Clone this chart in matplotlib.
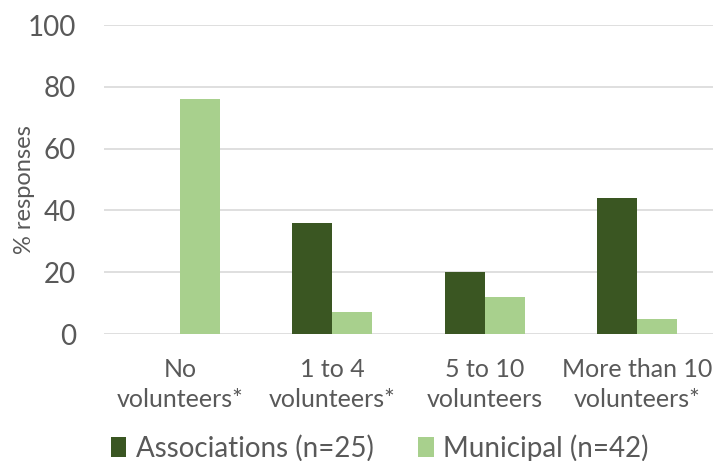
import matplotlib
matplotlib.use("Agg")
import matplotlib.pyplot as plt
import numpy as np

categories = ["No\nvolunteers*", "1 to 4\nvolunteers*", "5 to 10\nvolunteers", "More than 10\nvolunteers*"]
associations = [0, 36, 20, 44]
municipal = [76.2, 7.1, 11.9, 4.8]
series_names = ["Associations (n=25)", "Municipal (n=42)"]
yticks = [0, 20, 40, 60, 80, 100]

plt.rcParams['font.family'] = ['Lato', 'DejaVu Sans']
fig = plt.figure(figsize=(7.14, 4.61), dpi=100)
ax = fig.add_axes([104/714, 1-334/461, (713-104)/714, (334-25)/461])

x = np.arange(len(categories))
w = 0.263
ax.bar(x - w/2, associations, w, color="#3A5622", label=series_names[0], zorder=3)
ax.bar(x + w/2, municipal, w, color="#A8D08D", label=series_names[1], zorder=3)

ax.set_xlim(-0.5, len(categories) - 0.5)
ax.set_ylim(0, 100)
ax.set_yticks(yticks)
ax.yaxis.grid(True, color="#D9D9D9", linewidth=1.2, zorder=0)
for s in ax.spines.values():
    s.set_visible(False)
ax.tick_params(axis='both', length=0, colors="#595959")
ax.tick_params(axis='y', labelsize=20, pad=20)
ax.set_xticks(x)
ax.set_xticklabels(categories, fontsize=18, color="#595959", linespacing=1.4)
ax.tick_params(axis='x', pad=17)
ax.set_ylabel("% responses", fontsize=17, color="#595959")
ax.yaxis.set_label_coords((35 - 104) / 609, 0.466)

ax.legend(loc='center', bbox_to_anchor=(380/714, 1-448/461), bbox_transform=fig.transFigure,
          ncol=2, frameon=False,
          fontsize=20, handlelength=0.55, handleheight=0.7, handletextpad=0.35,
          columnspacing=1.6, labelcolor="#595959", borderpad=0)

fig.savefig("out.png", dpi=100)
